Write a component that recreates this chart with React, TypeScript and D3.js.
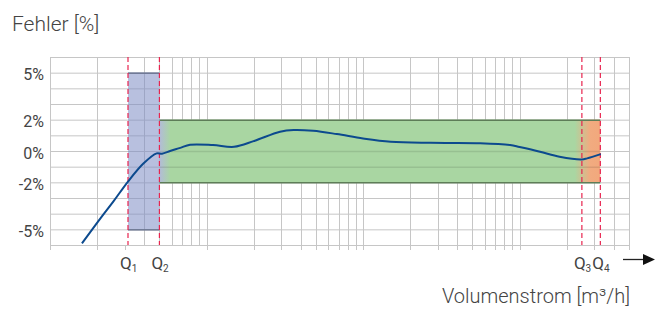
import { useRef, useEffect } from 'react';
import * as d3 from 'd3';

// flow (m3/h, relative log units) and measured error (%)
const flow = [1.6, 2.1, 2.55, 3.15, 3.95, 4.8, 5.2, 5.85, 6.8, 7.85, 11, 15, 20, 29.5, 36, 48, 68, 100, 150, 270, 560, 870, 1000, 1350, 1800, 2500, 2700, 3300];
const errorPct = [-5.9, -4.3, -3.2, -1.95, -0.8, -0.15, -0.17, 0, 0.2, 0.4, 0.38, 0.27, 0.63, 1.23, 1.34, 1.29, 1.08, 0.8, 0.59, 0.52, 0.5, 0.38, 0.25, -0.05, -0.37, -0.54, -0.47, -0.2];

const qValues = [3.15, 5, 2500, 3280];
const qLabels = ['1', '2', '3', '4'];
const yTicks = [5, 2, 0, -2, -5];
const blueBand = [-5, 5];
const greenBand = [-2, 2];

interface Point {
    q: number;
    e: number;
}

export default function App() {
    const svgRef = useRef<SVGSVGElement | null>(null);

    useEffect(() => {
        if (!svgRef.current) return;
        const svg = d3.select(svgRef.current);
        svg.selectAll('*').remove();

        const width = 661;
        const height = 311;
        const margin = { top: 57, right: 32, bottom: 66, left: 50 };
        const font = 'Roboto, sans-serif';

        svg.attr('width', width).attr('height', height);

        const x = d3.scaleLog().domain([1, 5000]).range([margin.left, width - margin.right]);
        const y = d3.scaleLinear().domain([-6, 6]).range([height - margin.bottom, margin.top]);

        const [q1, q2, q3, q4] = qValues.map(v => x(v));
        const grid = svg.append('g');
        const gridColor = '#c6c6c6';

        // horizontal grid, every 1 %
        grid.selectAll('line.h')
            .data(d3.range(-6, 7))
            .enter().append('line')
            .attr('x1', x.range()[0])
            .attr('x2', x.range()[1])
            .attr('y1', d => y(d) + 0.5)
            .attr('y2', d => y(d) + 0.5)
            .attr('stroke', gridColor)
            .attr('stroke-width', 1);

        // vertical log grid
        const xt = x.ticks();
        grid.selectAll('line.v')
            .data(xt)
            .enter().append('line')
            .attr('x1', d => Math.round(x(d)) + 0.5)
            .attr('x2', d => Math.round(x(d)) + 0.5)
            .attr('y1', d => (d === 3 ? y(-6) : y(6)))
            .attr('y2', d => (d >= 4 && d <= 9 ? y(-6) : y(-6) + 5))
            .attr('stroke', gridColor)
            .attr('stroke-width', 1);

        // gradient for tolerance band
        const defs = svg.append('defs');
        const grad = defs.append('linearGradient')
            .attr('id', 'band')
            .attr('gradientUnits', 'userSpaceOnUse')
            .attr('x1', q2).attr('x2', q4).attr('y1', 0).attr('y2', 0);
        const off = (px: number) => (px - q2) / (q4 - q2);
        const stops: [number, string][] = [
            [0, '#b3bbd9'],
            [off(q2 + 11), '#a9d6a2'],
            [off(q3 - 7), '#a9d6a2'],
            [off(q3 + 8), '#f1ab80'],
            [1, '#f2a87c'],
        ];
        grad.selectAll('stop')
            .data(stops)
            .enter().append('stop')
            .attr('offset', d => d[0])
            .attr('stop-color', d => d[1]);

        // green band Q2..Q4
        svg.append('rect')
            .attr('x', q2)
            .attr('y', y(greenBand[1]))
            .attr('width', q4 - q2)
            .attr('height', y(greenBand[0]) - y(greenBand[1]))
            .attr('fill', 'url(#band)');

        svg.selectAll('line.inner')
            .data([0, -1])
            .enter().append('line')
            .attr('x1', q2)
            .attr('x2', q4)
            .attr('y1', d => y(d) + 0.5)
            .attr('y2', d => y(d) + 0.5)
            .attr('stroke', 'rgba(0,0,0,0.1)')
            .attr('stroke-width', 1.5);

        svg.selectAll('line.gb')
            .data(greenBand)
            .enter().append('line')
            .attr('x1', q2)
            .attr('x2', q4)
            .attr('y1', d => y(d) + 0.5)
            .attr('y2', d => y(d) + 0.5)
            .attr('stroke', '#5e7d58')
            .attr('stroke-width', 1.5);

        // blue band Q1..Q2
        svg.append('rect')
            .attr('x', q1)
            .attr('y', y(blueBand[1]))
            .attr('width', q2 - q1)
            .attr('height', y(blueBand[0]) - y(blueBand[1]))
            .attr('fill', '#7d8cc4')
            .attr('fill-opacity', 0.55);

        svg.selectAll('line.bb')
            .data(blueBand)
            .enter().append('line')
            .attr('x1', q1)
            .attr('x2', q2)
            .attr('y1', d => y(d) + 0.5)
            .attr('y2', d => y(d) + 0.5)
            .attr('stroke', '#6b7591')
            .attr('stroke-width', 1.5);

        // Q markers
        svg.selectAll('line.q')
            .data(qValues)
            .enter().append('line')
            .attr('x1', d => x(d))
            .attr('x2', d => x(d))
            .attr('y1', y(6))
            .attr('y2', y(-6))
            .attr('stroke', '#e8244f')
            .attr('stroke-width', 1.2)
            .attr('stroke-dasharray', '5,3');

        const qText = svg.selectAll('text.q')
            .data(qValues)
            .enter().append('text')
            .attr('x', d => x(d) - 8)
            .attr('y', 269)
            .attr('font-family', font)
            .attr('font-size', 17)
            .attr('fill', '#444');
        qText.append('tspan').text('Q');
        qText.append('tspan')
            .attr('font-size', 10)
            .attr('dy', 3)
            .text((_, i) => qLabels[i]);

        // error curve
        const points: Point[] = flow.map((q, i) => ({ q, e: errorPct[i] }));
        const line = d3.line<Point>()
            .x(d => x(d.q))
            .y(d => y(d.e))
            .curve(d3.curveCatmullRom.alpha(0.5));
        svg.append('path')
            .datum(points)
            .attr('fill', 'none')
            .attr('stroke', '#0c4a8e')
            .attr('stroke-width', 2)
            .attr('d', line);

        // y labels
        svg.selectAll('text.y')
            .data(yTicks)
            .enter().append('text')
            .attr('x', 44)
            .attr('y', d => y(d) + 7.5)
            .attr('text-anchor', 'end')
            .attr('font-family', font)
            .attr('font-size', 16)
            .attr('fill', '#444')
            .text(d => `${d}%`);

        // axis titles
        svg.append('text')
            .attr('x', 12)
            .attr('y', 31)
            .attr('font-family', font)
            .attr('font-size', 21)
            .attr('font-weight', 300)
            .attr('fill', '#444')
            .text('Fehler [%]');

        svg.append('text')
            .attr('x', 630)
            .attr('y', 303)
            .attr('text-anchor', 'end')
            .attr('font-family', font)
            .attr('font-size', 20)
            .attr('font-weight', 300)
            .attr('fill', '#444')
            .text('Volumenstrom [m³/h]');

        // arrow
        svg.append('line')
            .attr('x1', 623).attr('x2', 645)
            .attr('y1', 259.5).attr('y2', 259.5)
            .attr('stroke', '#222')
            .attr('stroke-width', 1.3);
        svg.append('path')
            .attr('d', d3.line()([[643, 254], [655, 259.5], [643, 265]]) + 'Z')
            .attr('fill', '#111');
    }, []);

    return <svg ref={svgRef} style={{ position: 'absolute', left: 0, top: 0 }} />;
}
